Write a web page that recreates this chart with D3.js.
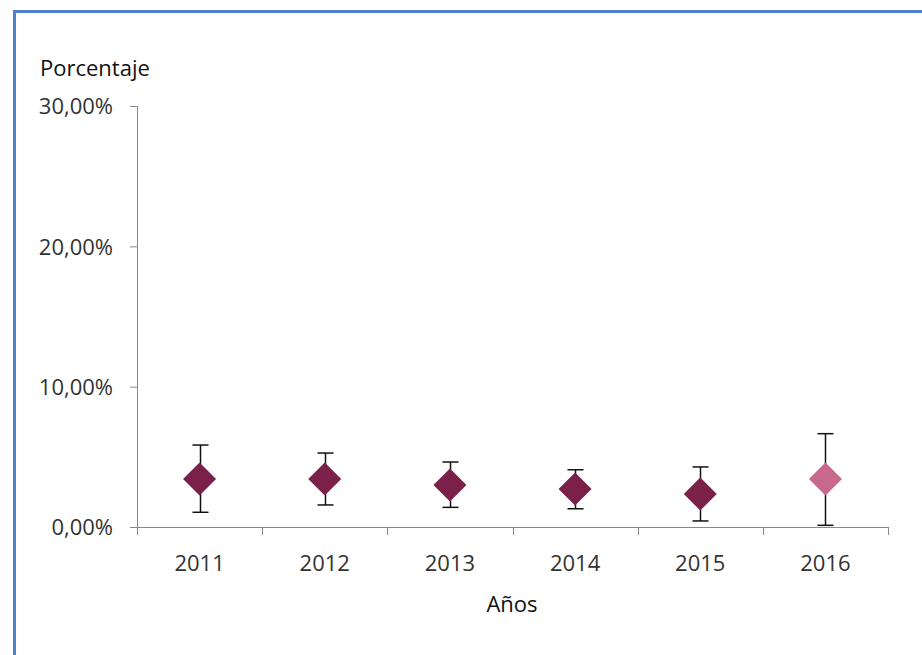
<!DOCTYPE html>
<html><head><meta charset="utf-8">
<script src="https://cdn.jsdelivr.net/npm/d3@7"></script>
<style>body{margin:0;background:#fff}svg{display:block}</style>
</head><body>
<script>
const years = ["2011","2012","2013","2014","2015","2016"];
const values = [3.42, 3.42, 2.99, 2.71, 2.35, 3.42];
const upper = [5.84, 5.27, 4.63, 4.08, 4.28, 6.65];
const lower = [1.05, 1.57, 1.40, 1.30, 0.43, 0.12];
const pointColors = ["#7B2049","#7B2049","#7B2049","#7B2049","#7B2049","#C8688C"];
const yTicks = [0, 10, 20, 30];

const W = 922, H = 655;
const svg = d3.select("body").append("svg").attr("width", W).attr("height", H);
const font = "'Open Sans', 'Noto Sans', sans-serif";

// border
svg.append("path").attr("d", `M14.5,${H} L14.5,11.5 L${W},11.5`)
  .attr("fill","none").attr("stroke","#4F81C8").attr("stroke-width",3);

const x = d3.scaleBand().domain(years).range([137, 888]);
const y = d3.scaleLinear().domain([0, 30]).range([527, 106]);

const fmt = v => d3.format(".2f")(v).replace(".", ",") + "%";

// y axis
const yAxis = svg.append("g").attr("transform","translate(137,0)")
  .call(d3.axisLeft(y).tickValues(yTicks).tickFormat(fmt).tickSize(7).tickPadding(17));
yAxis.select(".domain").attr("stroke","#8a8a8a").attr("d", `M-7,${y(30)+0.5}H0.5V${y(0)}`);
yAxis.selectAll(".tick line").attr("stroke","#8a8a8a");
yAxis.selectAll("text").attr("font-family",font).attr("font-size",22).attr("fill","#333").attr("dy","0.36em");

// x axis
const xAxis = svg.append("g").attr("transform","translate(0,527)")
  .call(d3.axisBottom(x).tickSize(0).tickPadding(24));
xAxis.select(".domain").attr("stroke","#8a8a8a").attr("d", "M137,0.5H888");
xAxis.selectAll("text").attr("font-family",font).attr("font-size",22).attr("fill","#333")
  .attr("y", 44).attr("dy", 0);
// category boundary ticks
const bounds = years.map(d => x(d)).concat([x.range()[1]]);
xAxis.selectAll(".bt").data(bounds).enter().append("line")
  .attr("x1", d => Math.round(d)+0.5).attr("x2", d => Math.round(d)+0.5)
  .attr("y1", 0).attr("y2", 8).attr("stroke","#8a8a8a");

// error bars
const g = svg.append("g");
const cx = d => x(d) + x.bandwidth()/2;
years.forEach((yr, i) => {
  const c = Math.round(cx(yr)) + 0.5;
  g.append("line").attr("x1",c).attr("x2",c).attr("y1",y(upper[i])).attr("y2",y(lower[i]))
    .attr("stroke","#111").attr("stroke-width",1.5);
  [upper[i], lower[i]].forEach(v => {
    g.append("line").attr("x1",c-8).attr("x2",c+8).attr("y1",y(v)).attr("y2",y(v))
      .attr("stroke","#111").attr("stroke-width",1.5);
  });
});
// markers
g.selectAll("path.pt").data(years).enter().append("path").attr("class","pt")
  .attr("transform", (d,i) => `translate(${cx(d)},${y(values[i])})`)
  .attr("d", "M0,-16.5L16.5,0L0,16.5L-16.5,0Z")
  .attr("fill", (d,i) => pointColors[i]);

// titles
svg.append("text").attr("x",40).attr("y",76).text("Porcentaje")
  .attr("font-family",font).attr("font-size",22).attr("fill","#111");
svg.append("text").attr("x",512).attr("y",612).attr("text-anchor","middle").text("Años")
  .attr("font-family",font).attr("font-size",22).attr("fill","#111");
</script>
</body></html>
